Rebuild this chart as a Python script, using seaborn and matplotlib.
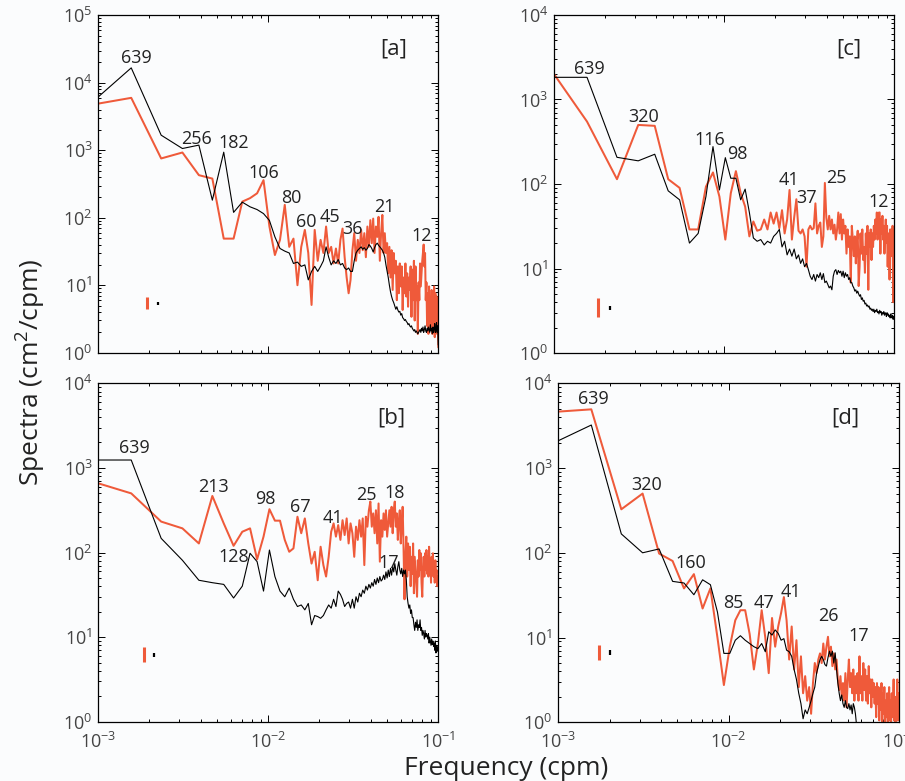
import numpy as np
import pandas as pd
import seaborn as sns
import matplotlib
matplotlib.use('Agg')
import matplotlib.pyplot as plt
from matplotlib.ticker import LogLocator, NullFormatter

# frequency grid: harmonics of a 1280 min record (cpm)
harmonic = np.arange(1, 129)
record_min = 1280.0
freq = harmonic / record_min

# ---- panel [a]
a_black = [3570, 16600, 1670, 1060, 1190, 182, 935, 120, 170, 145,
           132, 115, 91, 52, 35, 32, 30, 21, 22, 19,
           20, 12, 16, 19, 16, 19, 23, 37, 26, 20,
           23, 21, 24, 20, 21, 18, 17, 18, 16, 16,
           23, 30, 33, 35, 37, 34, 36, 33, 35, 40,
           38, 35, 31, 36, 40, 42, 39, 37, 35, 33,
           30, 26, 20, 16, 13, 10, 8, 6.8, 6, 5.5,
           4.9, 4.4, 4.8, 4.3, 4.0, 4.1, 3.6, 3.8, 3.3, 3.2,
           3.0, 3.1, 2.9, 2.8, 2.6, 2.7, 2.5, 2.4, 2.5, 2.3,
           2.2, 2.1, 2.2, 2.0, 2.1, 2.0, 1.9, 2.0, 2.1, 2.2,
           2.0, 2.3, 2.1, 2.4, 2.0, 2.2, 2.5, 2.1, 2.0, 2.3,
           2.1, 2.4, 2.2, 2.0, 2.6, 2.1, 2.3, 1.9, 2.4, 2.0,
           2.2, 2.7, 2.0, 2.3, 2.8, 2.0, 2.5, 1.3]
a_red = [4400, 5970, 755, 925, 427, 380, 49, 49, 173, 195,
         230, 360, 74, 28, 47, 155, 37, 49, 10, 37,
         66, 30, 5.1, 66, 23, 47, 30, 74, 30, 37,
         21, 35, 21, 47, 69, 26, 13, 7.6, 12, 33,
         59, 23, 47, 30, 66, 33, 59, 26, 74, 37,
         92, 42, 97, 30, 74, 52, 103, 23, 59, 110,
         30, 59, 30, 42, 15, 37, 13, 33, 8.5, 30,
         15, 23, 6, 19, 7.6, 21, 9.6, 19, 4.3, 13,
         7.6, 21, 6.8, 15, 4.8, 13, 8.5, 19, 3.4, 17,
         6, 23, 3, 19, 6, 9.6, 1.9, 11, 6, 21,
         9.6, 15, 23, 30, 40, 19, 30, 6, 11, 2.5,
         7.6, 1.9, 9.6, 3, 6, 2.2, 8.5, 1.9, 7.6, 3.4,
         9.6, 1.7, 7.6, 3.4, 6.8, 1.9, 6, 1.2]

# ---- panel [b]
b_black = [1240, 1240, 147, 81, 47, 44, 42, 29, 40, 98,
           78, 35, 107, 52, 35, 30, 38, 28, 23, 24,
           21, 25, 14, 18, 17.5, 16.7, 18, 21, 24, 22,
           28, 23, 35, 32, 28, 23, 25, 26, 22, 28,
           22, 30, 26, 33, 30, 36, 33, 40, 36, 42,
           38, 44, 40, 48, 42, 50, 44, 52, 46, 48,
           54, 48, 59, 50, 62, 52, 65, 54, 68, 59,
           74, 62, 54, 68, 78, 62, 56, 65, 52, 62,
           56, 62, 48, 30, 25, 22, 24, 19, 21, 17,
           17, 14, 12, 15, 13, 16, 12, 14, 13, 16,
           12, 13, 10.5, 12, 11, 9.5, 12, 10, 11, 10.5,
           9.5, 11, 8.5, 10, 9, 8, 9.5, 8.2, 9, 7.8,
           8.5, 7, 9, 6.5, 8, 6.8, 7.5, 8]
b_red = [765, 500, 232, 193, 128, 466, 221, 120, 176, 193,
         83, 154, 325, 238, 238, 141, 102, 112, 265, 169,
         253, 128, 74, 102, 47, 117, 71, 52, 89, 176,
         221, 154, 211, 141, 241, 161, 253, 128, 221, 169,
         89, 202, 141, 241, 154, 253, 71, 265, 202, 316,
         400, 202, 290, 169, 316, 128, 380, 78, 241, 154,
         290, 185, 316, 154, 221, 316, 202, 347, 169, 316,
         400, 202, 290, 141, 241, 316, 128, 221, 347, 107,
         28, 89, 154, 52, 128, 62, 117, 40, 89, 56,
         128, 33, 89, 62, 44, 30, 81, 52, 107, 62,
         98, 44, 30, 62, 89, 52, 98, 62, 107, 56,
         89, 52, 117, 62, 81, 44, 89, 56, 98, 52,
         74, 44, 81, 52, 62, 40, 52, 44]

# ---- panel [c]
c_black = [1830, 1830, 207, 188, 225, 83, 65, 20, 26, 71,
           277, 85, 205, 117, 117, 65, 87, 46, 23, 21,
           22, 19, 21, 20, 24, 26, 29, 18, 21, 14.5,
           17, 14, 17, 13, 14.5, 11.5, 13, 10.5, 11.5, 9.7,
           8.1, 7.4, 8.5, 7.1, 8.5, 7.8, 8.9, 7.4, 8.7, 6.8,
           7.1, 6.5, 5.9, 6.2, 5.6, 8.1, 9.3, 9.7, 8.5, 9.5,
           8.9, 9.3, 8.1, 9.3, 7.8, 8.9, 8.1, 8.5, 7.4, 7.8,
           6.8, 6.8, 6.2, 5.9, 5.4, 5.6, 5.1, 5.4, 5.0, 4.7,
           4.9, 4.3, 4.5, 4.1, 4.2, 3.8, 3.9, 3.6, 3.7, 3.5,
           3.6, 3.3, 3.4, 3.2, 3.3, 3.1, 3.3, 3.0, 3.2, 3.1,
           3.3, 3.0, 3.1, 2.9, 3.2, 3.0, 3.1, 2.8, 3.0, 2.9,
           3.1, 2.8, 3.0, 2.9, 2.7, 3.0, 2.8, 2.9, 2.7, 2.8,
           2.6, 2.9, 2.7, 2.6, 2.8, 2.5, 2.7, 2.6]
c_red = [4070, 548, 114, 500, 488, 114, 90, 29, 29, 93,
         137, 71, 22, 78, 142, 78, 54, 24, 36, 28,
         29, 38, 29, 46, 34, 46, 30, 49, 26, 38,
         85, 22, 40, 66, 28, 26, 29, 24, 10.5, 29,
         32, 29, 30, 59, 26, 32, 35, 18, 24, 103,
         40, 29, 42, 29, 38, 26, 33, 22, 29, 46,
         26, 44, 22, 38, 26, 32, 15, 29, 18, 24,
         6.8, 32, 22, 14, 24, 11.5, 20, 28, 6.2, 10.5,
         26, 15, 29, 12.6, 18, 8.9, 26, 15, 32, 5.6,
         26, 18, 29, 12.6, 26, 18, 32, 22, 38, 26,
         46, 22, 42, 46, 46, 15, 38, 26, 42, 22,
         32, 15, 26, 38, 20, 32, 10.5, 26, 22, 7.4,
         29, 18, 26, 14, 32, 4, 29, 5.1]

# ---- panel [d]
d_black = [1660, 3220, 167, 100, 111, 46, 44, 32, 48, 42,
           20, 6.5, 6.5, 9.3, 10.5, 9.3, 8.5, 7.8, 7.4, 8.5,
           6.8, 11.7, 10.7, 12.3, 11.2, 9.3, 9.7, 7.1, 6.8, 6.0,
           4.2, 3.2, 2.2, 1.66, 1.1, 1.4, 1.26, 1.5, 1.8, 2.2,
           2.6, 3.8, 4.6, 5.5, 6.0, 5.5, 4.8, 4.6, 5.8, 6.9,
           6.0, 6.9, 5.0, 6.6, 4.2, 2.9, 2.2, 1.8, 2.1, 1.66,
           1.5, 1.8, 1.5, 1.45, 1.66, 1.4, 1.6, 1.26, 1.66, 1.5,
           1.26, 0.95, 0.8, 0.7, 0.75, 0.65, 0.7, 0.6, 0.65, 0.6,
           0.55, 0.6, 0.5, 0.55, 0.5, 0.52, 0.48, 0.5, 0.45, 0.48,
           0.45, 0.42, 0.46, 0.4, 0.44, 0.42, 0.4, 0.43, 0.38, 0.4,
           0.38, 0.4, 0.36, 0.38, 0.35, 0.37, 0.34, 0.36, 0.33, 0.35,
           0.32, 0.34, 0.31, 0.33, 0.3, 0.32, 0.3, 0.31, 0.29, 0.3,
           0.28, 0.3, 0.27, 0.29, 0.27, 0.28, 0.26, 0.27]
d_red = [4480, 4930, 326, 500, 98, 80, 38, 56, 22, 38,
         10, 2.75, 7.8, 16, 21, 21, 11, 4.2, 8.5, 21,
         10, 3.8, 17, 7.8, 13.5, 19.5, 30, 16, 5.5, 13.5,
         4.2, 9.3, 2.6, 6, 2.2, 3.5, 1.8, 2.6, 1.26, 2.9,
         5.0, 3.8, 5.5, 6.5, 5.0, 8.5, 5.5, 7.8, 10.2, 6.0,
         7.8, 4.6, 6.5, 4.2, 5.5, 3.2, 2.4, 3.5, 2.0, 2.9,
         1.8, 3.8, 1.5, 3.2, 5.5, 2.6, 3.8, 2.2, 4.2, 1.8,
         3.5, 2.2, 3.8, 1.8, 6.0, 2.2, 3.5, 1.8, 5.0, 2.4,
         4.2, 1.8, 3.5, 1.66, 4.6, 2.2, 3.2, 1.5, 3.2, 2.0,
         2.9, 1.66, 2.6, 1.15, 2.9, 1.66, 2.6, 1.05, 2.4, 1.4,
         2.9, 0.9, 2.2, 1.26, 2.6, 0.95, 1.8, 1.15, 2.2, 0.85,
         1.5, 2.6, 1.05, 1.8, 0.95, 2.2, 1.15, 1.66, 3.2, 1.05,
         1.8, 0.9, 2.0, 1.15, 3.2, 1.05, 2.2, 1.15]

# period labels (minutes) at (freq, spectra)
a_labels = [('639', 1.68e-3, 2.3e4), ('256', 3.79e-3, 1490), ('182', 6.28e-3, 1260),
            ('106', 9.35e-3, 452), ('80', 0.0136, 193), ('60', 0.0167, 87),
            ('45', 0.0231, 101), ('36', 0.0313, 67), ('21', 0.0479, 142), ('12', 0.0798, 53.5)]
b_labels = [('639', 1.62e-3, 1706), ('213', 4.75e-3, 600), ('128', 6.28e-3, 89),
            ('98', 9.64e-3, 425), ('67', 0.01535, 348), ('41', 0.0241, 254),
            ('25', 0.0379, 479), ('18', 0.0556, 509), ('17', 0.0508, 76)]
c_labels = [('639', 1.61e-3, 2280), ('320', 3.35e-3, 617), ('116', 8.2e-3, 333),
            ('98', 0.01202, 226), ('41', 0.0239, 112), ('37', 0.0303, 69),
            ('25', 0.0456, 117), ('12', 0.0809, 62)]
d_labels = [('639', 1.60e-3, 6480), ('320', 3.30e-3, 631), ('160', 6.01e-3, 75),
            ('85', 0.01064, 25.8), ('47', 0.0161, 25.4), ('41', 0.0232, 34.8),
            ('26', 0.0385, 18), ('17', 0.0582, 10.4)]

# confidence bars: (freq, low, high)
a_ci = {'red': (1.94e-3, 4.5, 6.8), 'black': (2.25e-3, 5.1, 5.7)}
b_ci = {'red': (1.87e-3, 5.1, 7.7), 'black': (2.13e-3, 5.9, 6.5)}
c_ci = {'red': (1.81e-3, 2.7, 4.5), 'black': (2.13e-3, 3.2, 3.6)}
d_ci = {'red': (1.74e-3, 5.4, 8.2), 'black': (2.0e-3, 6.2, 7.1)}

RED = '#ef5a3a'
BG = '#fbfcfd'

sns.set_style('ticks')
plt.rcParams['font.family'] = ['Open Sans', 'DejaVu Sans']
plt.rcParams['mathtext.fontset'] = 'custom'
plt.rcParams['mathtext.rm'] = 'Open Sans'
plt.rcParams['mathtext.it'] = 'Open Sans:italic'
plt.rcParams['mathtext.bf'] = 'Open Sans:bold'

panels = [
    ('[a]', a_black, a_red, a_labels, a_ci, 1e5, [0.1086, 0.5484, 0.3757, 0.4321], False, (0.0543, 3.2e4)),
    ('[b]', b_black, b_red, b_labels, b_ci, 1e4, [0.1086, 0.0759, 0.3757, 0.4333], True, (0.0531, 3860)),
    ('[c]', c_black, c_red, c_labels, c_ci, 1e4, [0.6122, 0.5480, 0.3760, 0.4328], False, (0.0538, 3930)),
    ('[d]', d_black, d_red, d_labels, d_ci, 1e4, [0.6169, 0.0752, 0.3765, 0.4340], True, (0.0482, 3860)),
]

fig = plt.figure(figsize=(9.05, 7.81), dpi=100, facecolor=BG)

for tag, blk, red, labels, ci, ytop, rect, xlab, tagpos in panels:
    ax = fig.add_axes(rect)
    ax.set_facecolor(BG)
    ax.set_xscale('log')
    ax.set_yscale('log')

    df = pd.DataFrame({
        'freq': np.concatenate([freq, freq]),
        'spectra': np.concatenate([red, blk]),
        'series': ['red'] * len(red) + ['black'] * len(blk),
    })
    sns.lineplot(data=df, x='freq', y='spectra', hue='series', size='series',
                 hue_order=['red', 'black'], size_order=['red', 'black'],
                 palette={'red': RED, 'black': 'black'},
                 sizes={'red': 1.45, 'black': 0.8},
                 estimator=None, sort=False, legend=False, ax=ax)

    for name, col, lw in [('red', RED, 2.2), ('black', 'black', 1.6)]:
        f, lo, hi = ci[name]
        ax.vlines(f, lo, hi, color=col, lw=lw)

    for txt, f, v in labels:
        ax.text(f, v, txt, ha='center', va='center', fontsize=13, color='#222222')
    ax.text(tagpos[0], tagpos[1], tag, ha='center', va='center', fontsize=16, color='#222222')

    ax.set_xlim(1e-3, 1e-1)
    ax.set_ylim(1, ytop)
    ax.set_xlabel('')
    ax.set_ylabel('')

    for axis in (ax.xaxis, ax.yaxis):
        axis.set_major_locator(LogLocator(base=10, numticks=20))
        axis.set_minor_locator(LogLocator(base=10, subs=np.arange(2, 10), numticks=20))
        axis.set_minor_formatter(NullFormatter())

    ax.tick_params(which='both', direction='in', top=True, right=True,
                   width=0.7, color='black', labelcolor='#444444', labelsize=13)
    ax.tick_params(which='major', length=5)
    ax.tick_params(which='minor', length=2.5)
    ax.tick_params(axis='y', pad=4)
    ax.tick_params(axis='x', pad=7, labelbottom=xlab)
    for sp in ax.spines.values():
        sp.set_linewidth(0.9)
        sp.set_color('black')

fig.text(0.035, 0.524, 'Spectra (cm$^2$/cpm)', rotation=90, ha='center', va='center',
         fontsize=19, color='#222222')
fig.text(0.559, 0.008, 'Frequency (cpm)', ha='center', va='baseline',
         fontsize=19, color='#222222')

fig.savefig('out.png', dpi=100, facecolor=BG)
